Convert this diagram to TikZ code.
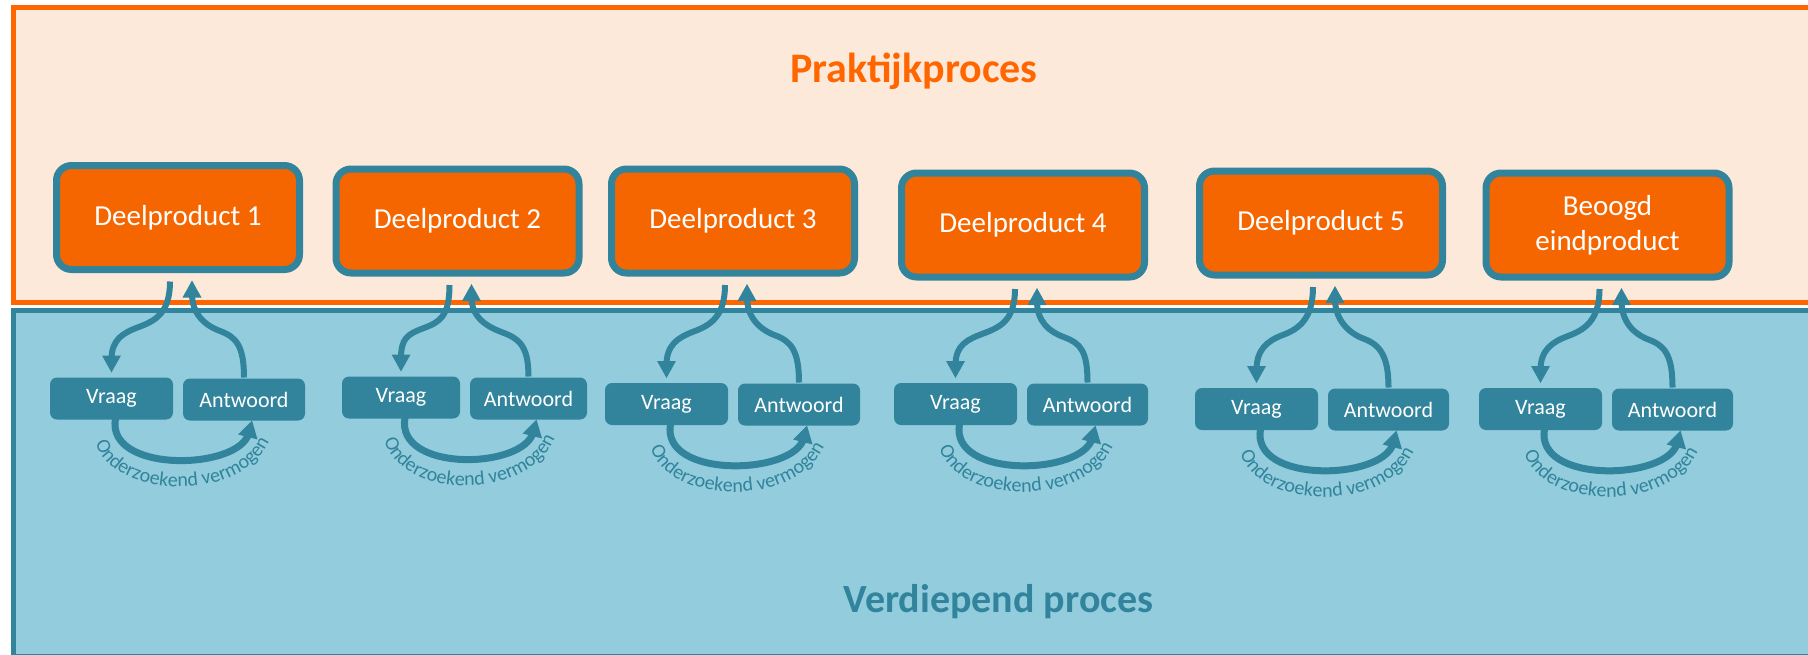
\documentclass[tikz,border=0pt]{standalone}
\usepackage{fontspec}
\setmainfont{Carlito}
\usetikzlibrary{calc,decorations.text}
\definecolor{peach}{HTML}{FDE9D9}
\definecolor{orng}{HTML}{FF6600}
\definecolor{boxor}{HTML}{F66600}
\definecolor{tealc}{HTML}{31849B}
\definecolor{lblue}{HTML}{93CDDD}
\begin{document}
\begin{tikzpicture}[x=1pt,y=-1pt,
  prod/.style={draw=tealc, line width=7pt, fill=boxor, rounded corners=15pt,
    minimum width=243pt, minimum height=104pt, inner sep=0pt, outer sep=0pt,
    text=white, align=center, font=\fontsize{29}{35}\selectfont},
  qa/.style={fill=tealc, rounded corners=7pt, minimum height=42pt, inner sep=0pt,
    outer sep=0pt, text=white, font=\fontsize{22}{26}\selectfont},
  flow/.style={draw=tealc, line width=6pt},
  loopline/.style={draw=tealc, line width=7pt},
  head/.style={fill=tealc, draw=none},
  bgtop/.style={draw=orng, fill=peach, line width=5pt},
  bgbot/.style={draw=tealc, fill=lblue, line width=5pt},
]
\useasboundingbox (0,0) rectangle (1808,654);
\draw[bgtop] (13.5,7.5) rectangle (1815,302.5);
\draw[bgbot] (13.5,310.5) rectangle (1815,656);
\node[font=\bfseries\fontsize{42}{50}\selectfont, text=orng, anchor=base] (ttop) at (914,82) {Praktijkproces};
\node[font=\bfseries\fontsize{40}{48}\selectfont, text=tealc, anchor=base] (tbot) at (998.5,612) {Verdiepend proces};

\foreach \i/\bx/\by/\vx/\vy/\vw/\ax/\ay/\aw/\lab in {
 1/178/220.5/111.5/398.5/123/244/399.5/122/{Deelproduct 1},
 2/457.5/224/401/397.5/118/528.5/398.5/117/{Deelproduct 2},
 3/733/224/666.5/404/123/799/404.5/122/{Deelproduct 3},
 4/1023/228/955.5/404/123/1087.5/404.5/121/{Deelproduct 4},
 5/1321/226/1256.5/409/123/1388.5/409.5/121/{Deelproduct 5},
 6/1607.5/228/1540.5/409/123/1672.5/409.5/121/{Beoogd\\eindproduct}}
{
 \node[prod] (b\i) at (\bx,\by-3) {\lab};
 \node[qa, minimum width=\vw pt] (v\i) at (\vx,\vy) {Vraag};
 \node[qa, minimum width=\aw pt] (a\i) at (\ax,\ay) {Antwoord};
 % down arrow: product -> Vraag
 \coordinate (qs\i) at ($(b\i.south)+(-8,12)$);
 \coordinate (qe\i) at ($(v\i.north)+(0,-5)$);
 \coordinate (qm\i) at ($(qs\i)!0.5!(qe\i)+(-2,0)$);
 \draw[flow] (qs\i) .. controls +(0,32) and +(16,-6) .. (qm\i)
   .. controls +(-16,6) and +(0,-20) .. ($(qe\i)+(0,-13)$);
 \fill[head] (qe\i) -- ++(-9.5,-17) -- ++(19,0) -- cycle;
 % up arrow: Antwoord -> product
 \coordinate (as\i) at ($(a\i.north)+(0,-1)$);
 \coordinate (ae\i) at ($(b\i.south)+(14,11)$);
 \coordinate (am\i) at ($(as\i)!0.5!(ae\i)+(2,2)$);
 \draw[flow] (as\i) .. controls +(0,-32) and +(16,6) .. (am\i)
   .. controls +(-16,-6) and +(0,20) .. ($(ae\i)+(0,13)$);
 \fill[head] (ae\i) -- ++(-9.5,17) -- ++(19,0) -- cycle;
 % loop: Vraag -> Antwoord
 \coordinate (ls\i) at ($(v\i.south)+(4,-1)$);
 \coordinate (le\i) at ($(a\i.south)+(8,0)$);
 \coordinate (lc\i) at ($(le\i)+(-16,63)$);
 \coordinate (lb\i) at ($(le\i)!17pt!(lc\i)$);
 \coordinate (lx\i) at ($(le\i)!13pt!(lc\i)$);
 \draw[loopline] (ls\i) .. controls +(-10,55) and ($(lc\i)+(3,-13)$) .. (lx\i);
 \fill[head] (le\i) -- ($(lb\i)!10pt!90:(le\i)$) -- ($(lb\i)!10pt!-90:(le\i)$) -- cycle;
 % curved label
 \path[decorate, decoration={text along path, text align=center, text color=tealc,
   text={|\fontsize{20}{20}\selectfont|Onderzoekend vermogen}}]
   ($(ls\i)+(-22,5)$) .. controls +(-8,80) and +(-13,90) .. ($(le\i)+(23,2)$);
}
\end{tikzpicture}
\end{document}
